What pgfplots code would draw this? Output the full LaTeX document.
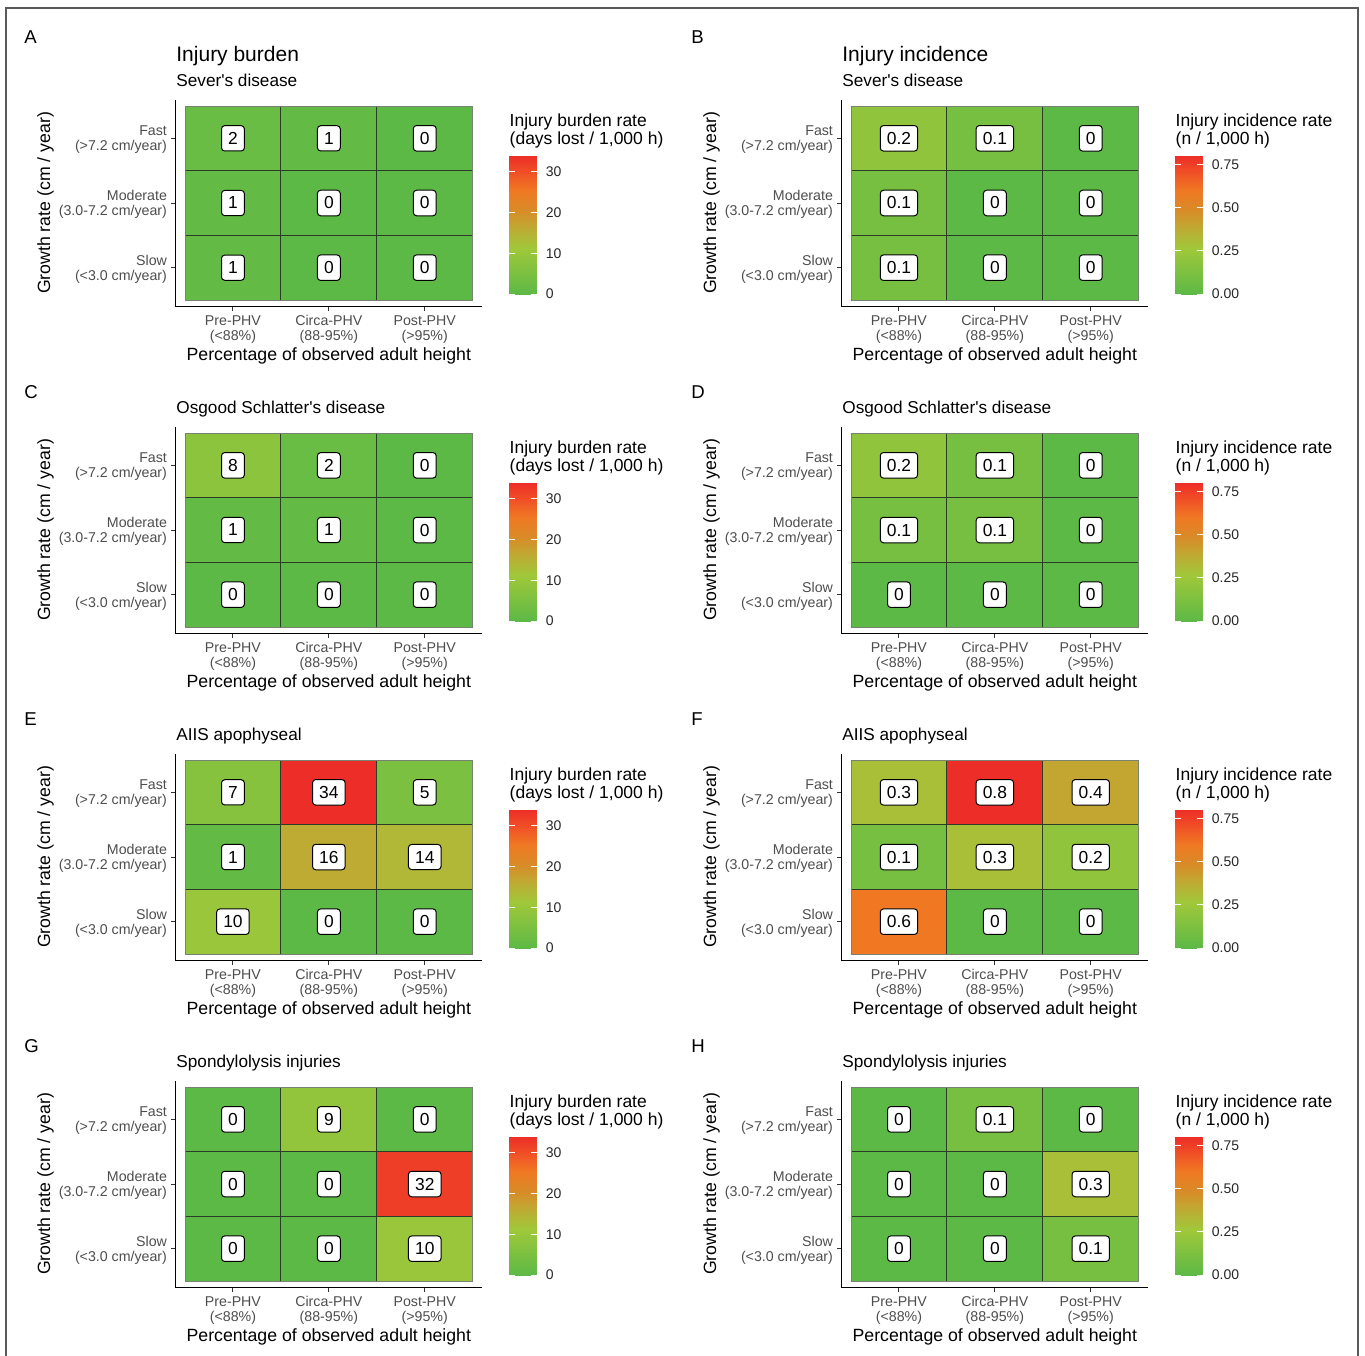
\documentclass[border=0pt]{standalone}
\usepackage{pgfplots}
\usepackage{pgfplotstable}
\pgfplotsset{compat=1.18}
\usepackage{fontspec}
\setmainfont{Liberation Sans}
\definecolor{ticklab}{HTML}{4D4D4D}
\definecolor{gridin}{RGB}{45,60,40}
\definecolor{gridout}{RGB}{120,130,115}

\pgfplotsset{
  colormap={injury}{rgb255(0cm)=(93,185,70); rgb255(3.3cm)=(160,200,58); rgb255(5cm)=(195,165,50); rgb255(6cm)=(215,140,40); rgb255(7.5cm)=(240,120,35); rgb255(8.8cm)=(240,80,38); rgb255(10cm)=(237,45,40)},
  heat/.style={
    scale only axis, width=153.45pt, height=103.5pt,
    anchor=south west,
    xmin=-0.6, xmax=2.6, ymin=-0.6, ymax=2.6,
    axis lines=left, axis line style={-, line width=0.7pt, black},
    tick align=outside, major tick length=2pt,
    tick style={black!80, line width=0.5pt},
    xtick={0,1,2}, ytick={0,1,2},
    xticklabels={{Pre-PHV\\(<88\%)},{Circa-PHV\\(88-95\%)},{Post-PHV\\(>95\%)}},
    yticklabels={{Slow\\(<3.0 cm/year)},{Moderate\\(3.0-7.2 cm/year)},{Fast\\(>7.2 cm/year)}},
    xticklabel style={align=center, font=\fontsize{7.1}{7.5}\selectfont, text=ticklab, yshift=1pt},
    yticklabel style={align=right, font=\fontsize{7.1}{7.5}\selectfont, text=ticklab, xshift=1.3pt, yshift=-0.6pt},
    xlabel={Percentage of observed adult height},
    ylabel={Growth rate (cm / year)},
    xlabel style={at={(axis description cs:0.5,-0.2618)}, anchor=base, font=\fontsize{8.85}{10}\selectfont},
    ylabel style={at={(axis description cs:-0.4086,0.5)}, anchor=base, font=\fontsize{8.85}{10}\selectfont},
    colormap name=injury,
    colorbar,
    colorbar style={
      scale only axis,
      at={(parent axis.south east)}, anchor=south west,
      xshift=4.85pt, yshift=6.25pt,
      width=13.85pt, height=69.15pt,
      axis line style={draw=none},
      tick align=inside, major tick length=2.77pt,
      ytick style={draw=white, line width=0.5pt},
      yticklabel style={font=\fontsize{7}{8}\selectfont, text=black!85, xshift=1pt},
    },
  },
  burden/.style={point meta min=0, point meta max=34,
    colorbar style={ytick={0,10,20,30}, yticklabels={0,10,20,30}}},
  incid/.style={point meta min=0, point meta max=0.8,
    colorbar style={ytick={0,0.25,0.5,0.75}, yticklabels={0.00,0.25,0.50,0.75}}},
  celllabels/.style={only marks, mark=*, mark options={draw=none, fill=none},
    nodes near coords, point meta=explicit symbolic,
    every node near coord/.append style={anchor=center, draw=black, fill=white,
      rounded corners=1.6pt, inner xsep=3.3pt, inner ysep=3.3pt, line width=0.5pt,
      font=\fontsize{8.7}{9}\selectfont, text=black}},
}

\newcommand\cellgrid{%
\addplot[draw=gridin, line width=0.45pt, unbounded coords=jump, forget plot] coordinates {(0.5,-0.5) (0.5,2.5) (nan,nan) (1.5,-0.5) (1.5,2.5) (nan,nan) (-0.5,0.5) (2.5,0.5) (nan,nan) (-0.5,1.5) (2.5,1.5)};
\addplot[draw=gridout, line width=0.45pt, forget plot] coordinates {(-0.5,-0.5) (2.5,-0.5) (2.5,2.5) (-0.5,2.5) (-0.5,-0.5)};
}

\newcommand\panel[4]{%
\begin{axis}[heat,#3,at={(#1,#2)}]
\addplot[matrix plot*, mesh/cols=3, point meta=explicit] table[x=x,y=y,meta=v]{#4};
\cellgrid
\addplot[celllabels] table[x=x,y=y,meta=lab]{#4};
\end{axis}}

% y = 0 Slow, 1 Moderate, 2 Fast; x = 0 Pre-PHV, 1 Circa-PHV, 2 Post-PHV
\pgfplotstableread{
x y v lab
0 0 1 1
1 0 0 0
2 0 0 0
0 1 1 1
1 1 0 0
2 1 0 0
0 2 2 2
1 2 1 1
2 2 0 0
}\dA
\pgfplotstableread{
x y v lab
0 0 0.1 0.1
1 0 0 0
2 0 0 0
0 1 0.1 0.1
1 1 0 0
2 1 0 0
0 2 0.2 0.2
1 2 0.1 0.1
2 2 0 0
}\dB
\pgfplotstableread{
x y v lab
0 0 0 0
1 0 0 0
2 0 0 0
0 1 1 1
1 1 1 1
2 1 0 0
0 2 8 8
1 2 2 2
2 2 0 0
}\dC
\pgfplotstableread{
x y v lab
0 0 0 0
1 0 0 0
2 0 0 0
0 1 0.1 0.1
1 1 0.1 0.1
2 1 0 0
0 2 0.2 0.2
1 2 0.1 0.1
2 2 0 0
}\dD
\pgfplotstableread{
x y v lab
0 0 10 10
1 0 0 0
2 0 0 0
0 1 1 1
1 1 16 16
2 1 14 14
0 2 7 7
1 2 34 34
2 2 5 5
}\dE
\pgfplotstableread{
x y v lab
0 0 0.6 0.6
1 0 0 0
2 0 0 0
0 1 0.1 0.1
1 1 0.3 0.3
2 1 0.2 0.2
0 2 0.3 0.3
1 2 0.8 0.8
2 2 0.4 0.4
}\dF
\pgfplotstableread{
x y v lab
0 0 0 0
1 0 0 0
2 0 10 10
0 1 0 0
1 1 0 0
2 1 32 32
0 2 0 0
1 2 9 9
2 2 0 0
}\dG
\pgfplotstableread{
x y v lab
0 0 0 0
1 0 0 0
2 0 0.1 0.1
0 1 0 0
1 1 0 0
2 1 0.3 0.3
0 2 0 0
1 2 0.1 0.1
2 2 0 0
}\dH

\begin{document}
\begin{tikzpicture}
\useasboundingbox (0,0) rectangle (682.5pt,-677.5pt);
\draw[black!65, line width=0.75pt] (3pt,-4pt) rectangle (679pt,-700pt);

\panel{87.7pt}{-153.25pt}{burden}{\dA}
\panel{420.7pt}{-153.25pt}{incid}{\dB}
\panel{87.7pt}{-316.75pt}{burden}{\dC}
\panel{420.7pt}{-316.75pt}{incid}{\dD}
\panel{87.7pt}{-480.25pt}{burden}{\dE}
\panel{420.7pt}{-480.25pt}{incid}{\dF}
\panel{87.7pt}{-643.75pt}{burden}{\dG}
\panel{420.7pt}{-643.75pt}{incid}{\dH}

% panel letters
\begin{scope}[every node/.style={anchor=base west, inner sep=0pt, font=\fontsize{9.3}{10}\selectfont}]
\node at (12pt,-21.65pt) {A};
\node at (345.5pt,-21.65pt) {B};
\node at (12pt,-199.15pt) {C};
\node at (345.5pt,-199.15pt) {D};
\node at (12pt,-362.65pt) {E};
\node at (345.5pt,-362.65pt) {F};
\node at (12pt,-526.15pt) {G};
\node at (345.5pt,-526.15pt) {H};
\end{scope}

% titles
\begin{scope}[every node/.style={anchor=base west, inner sep=0pt, font=\fontsize{10.5}{12}\selectfont}]
\node at (88pt,-30.85pt) {Injury burden};
\node at (421pt,-30.85pt) {Injury incidence};
\end{scope}
\begin{scope}[every node/.style={anchor=base west, inner sep=0pt, font=\fontsize{8.6}{10}\selectfont}]
\node at (88pt,-43.35pt) {Sever\textquotesingle s disease};
\node at (421pt,-43.35pt) {Sever\textquotesingle s disease};
\node at (88pt,-206.85pt) {Osgood Schlatter\textquotesingle s disease};
\node at (421pt,-206.85pt) {Osgood Schlatter\textquotesingle s disease};
\node at (88pt,-370.35pt) {AIIS apophyseal};
\node at (421pt,-370.35pt) {AIIS apophyseal};
\node at (88pt,-533.85pt) {Spondylolysis injuries};
\node at (421pt,-533.85pt) {Spondylolysis injuries};
\end{scope}

% colour bar titles
\begin{scope}[every node/.style={anchor=base west, inner sep=0pt, font=\fontsize{8.75}{10}\selectfont}]
\foreach \r in {0,1,2,3}{
  \node at (254.65pt,-63pt-163.5pt*\r) {Injury burden rate};
  \node at (254.65pt,-72.15pt-163.5pt*\r) {(days lost / 1,000 h)};
  \node at (587.65pt,-63pt-163.5pt*\r) {Injury incidence rate};
  \node at (587.65pt,-72.15pt-163.5pt*\r) {(n / 1,000 h)};
}
\end{scope}
\end{tikzpicture}
\end{document}
